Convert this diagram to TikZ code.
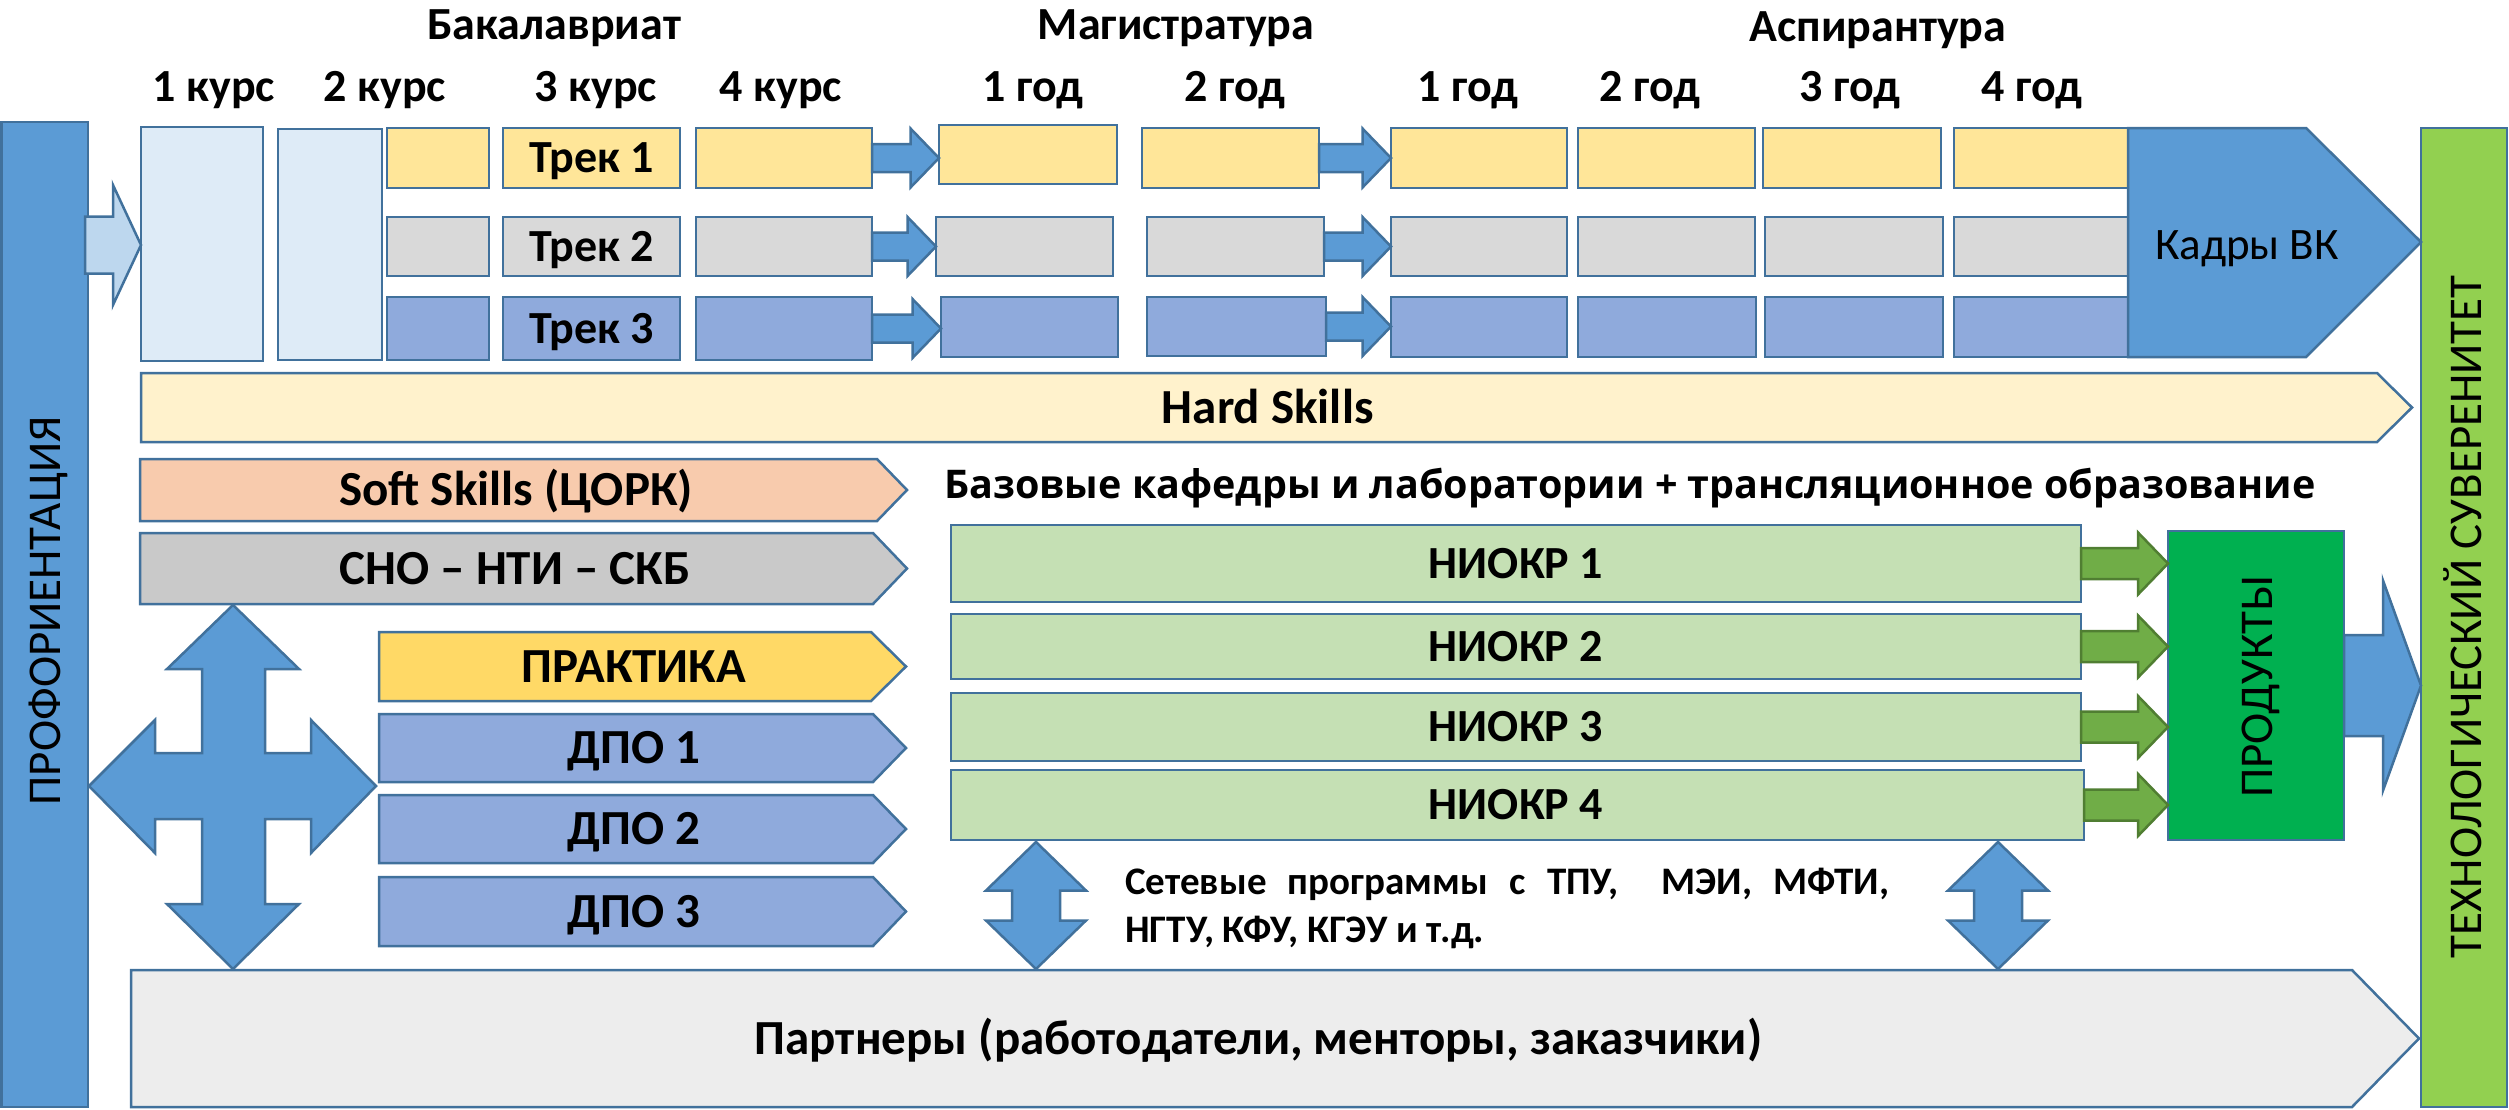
\documentclass[tikz,border=0pt]{standalone}
\usepackage{fontspec}
\setmainfont{Carlito}
\newfontfamily\osans{Open Sans}
\usetikzlibrary{calc}
\definecolor{ol}{HTML}{41719C}
\definecolor{blueF}{HTML}{5B9BD5}
\definecolor{lightF}{HTML}{DEEBF7}
\definecolor{smallA}{HTML}{BDD7EE}
\definecolor{yel}{HTML}{FFE699}
\definecolor{gry}{HTML}{D9D9D9}
\definecolor{blu3}{HTML}{8FAADC}
\definecolor{hard}{HTML}{FFF2CC}
\definecolor{soft}{HTML}{F8CBAD}
\definecolor{sno}{HTML}{C9C9C9}
\definecolor{prak}{HTML}{FFD966}
\definecolor{niokr}{HTML}{C5E0B4}
\definecolor{garrow}{HTML}{70AD47}
\definecolor{garrowD}{HTML}{507E32}
\definecolor{prod}{HTML}{00B050}
\definecolor{gbarF}{HTML}{92D050}
\definecolor{partn}{HTML}{EDEDED}
\newcommand\rbox[6]{\node[bx, fill=#2, minimum width={#5-#3}, minimum height={#6-#4}] (#1) at (#3,#4) {};}
\newcommand\pent[8]{%
  \path[shp, fill=#2] (#3,#6) -- (#4,#6) -- (#5,{(#6+#7)/2}) -- (#4,#7) -- (#3,#7) -- cycle;
  \coordinate (#1) at ({(#3+(#4+#5)/2)/2},{(#6+#7)/2});
  \node[#8] (#1t) at (#1) }
\newcommand\harr[6]{%
  \path[#6] let \p1=#1, \p2=#2 in
   (\x1,\y1+#4) -- (\x2-#3,\y1+#4) -- (\x2-#3,\y1+#5) -- (\x2,\y1) --
   (\x2-#3,\y1-#5) -- (\x2-#3,\y1-#4) -- (\x1,\y1-#4) -- cycle;}
\newcommand\vdarr[5]{%
  \path[barrow] let \p1=(#1), \p2=(#2) in
   (\x1,\y1) -- (\x1+#5,\y1-#3) -- (\x1+#4,\y1-#3) -- (\x1+#4,\y2+#3) --
   (\x1+#5,\y2+#3) -- (\x1,\y2) -- (\x1-#5,\y2+#3) -- (\x1-#4,\y2+#3) --
   (\x1-#4,\y1-#3) -- (\x1-#5,\y1-#3) -- cycle;}
\begin{document}
\begin{tikzpicture}[x=1pt,y=-1pt,
  shp/.style={draw=ol, line width=2.5pt, line join=miter},
  bx/.style={shp, inner sep=0pt, outer sep=0pt, anchor=north west},
  barrow/.style={shp, fill=blueF},
  garr/.style={draw=garrowD, line width=2.5pt, fill=garrow},
  lb/.style={font=\fontsize{46}{46}\selectfont\bfseries, inner sep=0pt, text height=29pt, text depth=0pt},
  lbb/.style={font=\fontsize{49}{49}\selectfont\bfseries, inner sep=0pt, text height=31pt, text depth=0pt},
  rg/.style={font=\fontsize{47}{47}\selectfont, inner sep=0pt, text height=30pt, text depth=0pt},
  sm/.style={font=\fontsize{39}{39}\selectfont\bfseries, inner sep=0pt, text height=24.5pt, text depth=0pt, anchor=west},
  bz/.style={font=\osans\fontsize{39.5}{39.5}\selectfont\bfseries, inner sep=0pt, text height=28pt, text depth=0pt}]
\useasboundingbox (0,0) rectangle (2509,1109);

% headers
\node[lb] (hb) at (554,25) {Бакалавриат};
\node[lb] (hm) at (1176,25) {Магистратура};
\node[lb] (ha) at (1878,27) {Аспирантура};
\foreach \x/\t [count=\i] in {214/1 курс,385/2 курс,596/3 курс,781/4 курс,1033/1 год,1235/2 год,1468/1 год,1650/2 год,1850/3 год,2032/4 год}
  {\node[lb] (c\i) at (\x,87) {\t};}

% side bars
\rbox{lbar}{blueF}{1.5}{122}{88}{1107}
\node[rg, rotate=90] (lbart) at (45,611) {ПРОФОРИЕНТАЦИЯ};
\rbox{gbar}{gbarF}{2421}{128}{2507}{1107}
\node[rg, rotate=90] (gbart) at (2466,617) {ТЕХНОЛОГИЧЕСКИЙ СУВЕРЕНИТЕТ};

% first years
\rbox{k1}{lightF}{141}{127}{263}{361}
\rbox{k2}{lightF}{278}{129}{382}{360}
\coordinate (pa) at (85,245);
\harr{(pa)}{(k1.west)}{28}{28.5}{60}{shp, fill=smallA}

% track rows
\rbox{a1}{yel}{387}{128}{489}{188}
\rbox{b1}{yel}{503}{128}{680}{188}
\rbox{d1}{yel}{696}{128}{872}{188}
\rbox{m1}{yel}{939}{125}{1117}{184}
\rbox{n1x}{yel}{1142}{128}{1319}{188}
\rbox{s1}{yel}{1391}{128}{1567}{188}
\rbox{t1}{yel}{1578}{128}{1755}{188}
\rbox{u1}{yel}{1763}{128}{1941}{188}
\rbox{v1}{yel}{1954}{128}{2140}{188}

\rbox{a2}{gry}{387}{217}{489}{276}
\rbox{b2}{gry}{503}{217}{680}{276}
\rbox{d2}{gry}{696}{217}{872}{276}
\rbox{m2}{gry}{936}{217}{1113}{276}
\rbox{n2x}{gry}{1147}{217}{1324}{276}
\rbox{s2}{gry}{1391}{217}{1567}{276}
\rbox{t2}{gry}{1578}{217}{1755}{276}
\rbox{u2}{gry}{1765}{217}{1943}{276}
\rbox{v2}{gry}{1954}{217}{2140}{276}

\rbox{a3}{blu3}{387}{297}{489}{360}
\rbox{b3}{blu3}{503}{297}{680}{360}
\rbox{d3}{blu3}{696}{297}{872}{360}
\rbox{m3}{blu3}{941}{297}{1118}{357}
\rbox{n3x}{blu3}{1147}{297}{1326}{356}
\rbox{s3}{blu3}{1391}{297}{1567}{357}
\rbox{t3}{blu3}{1578}{297}{1756}{357}
\rbox{u3}{blu3}{1765}{297}{1943}{357}
\rbox{v3}{blu3}{1954}{297}{2140}{357}

\node[lb] (tr1) at (b1.center) {Трек 1};
\node[lb] (tr2) at (b2.center) {Трек 2};
\node[lb] (tr3) at (b3.center) {Трек 3};

\foreach \r in {1,2,3}{
  \harr{(d\r.east)}{(m\r.west)}{28.5}{14}{29.5}{barrow}
  \harr{(n\r x.east)}{(s\r.west)}{28.5}{14}{29.5}{barrow}
}

% Kadry VK
\path[barrow] (2128,128) -- (2306,128) -- (2421,242) -- (2306,357) -- (2128,357) -- cycle;
\node[rg, font=\fontsize{45}{45}\selectfont] (kadry) at (2247,244) {Кадры ВК};

% skill arrows
\pent{hs}{hard}{141}{2377}{2412}{373}{442}{lbb}{Hard Skills};
\pent{ss}{soft}{140}{877}{907}{459}{521}{lbb}{Soft Skills (ЦОРК)};
\pent{sn}{sno}{140}{873}{907}{533}{604}{lbb}{СНО – НТИ – СКБ};
\pent{pr}{prak}{379}{871}{906}{632}{701}{lbb}{ПРАКТИКА};
\pent{dp1}{blu3}{379}{873}{906}{714}{782}{lbb}{ДПО 1};
\pent{dp2}{blu3}{379}{873}{906}{795}{863}{lbb}{ДПО 2};
\pent{dp3}{blu3}{379}{873}{906}{877}{946}{lbb}{ДПО 3};
\pent{pt}{partn}{131}{2352}{2419}{970}{1107}{lbb}{Партнеры (работодатели, менторы, заказчики)};

% cross arrow
\path[barrow] (233,605) -- (299,669) -- (265,669) -- (265,753) -- (311,753) -- (311,720)
  -- (376,786) -- (311,853) -- (311,819) -- (265,819) -- (265,904) -- (299,904)
  -- (233,969) -- (167,904) -- (202,904) -- (202,819) -- (155,819) -- (155,853)
  -- (89,786) -- (155,720) -- (155,753) -- (202,753) -- (202,669) -- (167,669) -- cycle;

% base departments
\node[bz] (baz) at (1630,484) {Базовые кафедры и лаборатории + трансляционное образование};

\rbox{ni1}{niokr}{951}{525}{2081}{602}
\rbox{ni2}{niokr}{951}{614}{2081}{679}
\rbox{ni3}{niokr}{951}{693}{2081}{761}
\rbox{ni4}{niokr}{951}{770}{2084}{840}
\foreach \i in {1,2,3,4} {\node[lb] (ni\i t) at (1516,0 |- ni\i.center) {НИОКР \i};}

\rbox{prd}{prod}{2168}{531}{2344}{840}
\node[rg, rotate=90] (prdt) at (2257,687) {ПРОДУКТЫ};
\foreach \i in {1,2,3,4}{
  \harr{(ni\i.east)}{(ni\i.east -| prd.west)}{30}{15.5}{31}{garr}
}
\harr{(prd.east)}{(prd.east -| gbar.west)}{38}{50.5}{105}{barrow}

% network programs
\coordinate (d1t) at (1036,842); \coordinate (d1b) at (1036,969);
\coordinate (d2t) at (1998,842); \coordinate (d2b) at (1998,969);
\vdarr{d1t}{d1b}{48.5}{24}{50}
\vdarr{d2t}{d2b}{48.5}{24}{50}
\node[sm] (net1) at (1125,882) {\makebox[764pt][s]{Сетевые программы с ТПУ,\ \ МЭИ, МФТИ,}};
\node[sm] (net2) at (1125,930) {НГТУ, КФУ, КГЭУ и т.д.};
\end{tikzpicture}
\end{document}
